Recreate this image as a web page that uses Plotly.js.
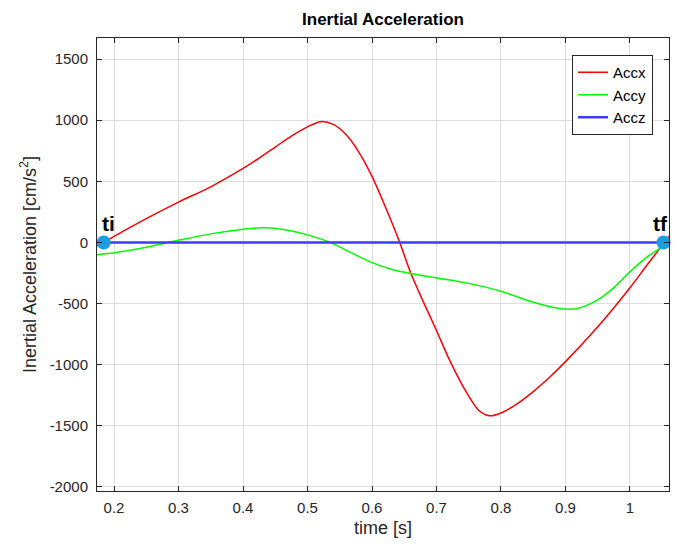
<!DOCTYPE html>
<html>
<head>
<meta charset="utf-8">
<script src="https://cdn.plot.ly/plotly-3.0.1.min.js"></script>
<style>html,body{margin:0;padding:0;background:#fff;}#chart{width:678px;height:548px;}</style>
</head>
<body>
<div id="chart"></div>
<script>
// Axis extent and event times
const xRange = [0.1736, 1.0605];
const yRange = [-2033, 1672];
const ti = 0.184;
const tf = 1.052;

// Accx (red)
const tAccx = [0.1736, 0.184, 0.2, 0.25, 0.3, 0.35, 0.4, 0.425, 0.45, 0.475, 0.5, 0.52, 0.54, 0.56, 0.58, 0.6, 0.62, 0.643, 0.66, 0.68, 0.7, 0.72, 0.747, 0.765, 0.782, 0.8, 0.825, 0.85, 0.875, 0.9, 0.95, 1.0, 1.025, 1.052, 1.0605];
const accx  = [-30, 0, 50, 195, 330, 455, 605, 690, 780, 870, 945, 988, 965, 880, 735, 540, 300, 0, -250, -490, -720, -960, -1231, -1370, -1418, -1395, -1320, -1220, -1105, -975, -690, -370, -195, -10, 50];

// Accy (green)
const tAccy = [0.1736, 0.2, 0.25, 0.283, 0.3, 0.35, 0.4, 0.43, 0.46, 0.5, 0.535, 0.57, 0.6, 0.63, 0.66, 0.7, 0.75, 0.8, 0.85, 0.88, 0.9, 0.92, 0.95, 0.975, 1.0, 1.025, 1.052, 1.0605];
const accy  = [-100, -85, -40, 0, 18, 70, 108, 120, 108, 62, 0, -90, -165, -220, -255, -290, -335, -400, -490, -530, -545, -538, -470, -370, -240, -125, -30, -5];

// Accz (blue)
const tAccz = [0.1736, 1.0605];
const accz  = [0, 0];

// Ticks
const xTickVals = [0.2, 0.3, 0.4, 0.5, 0.6, 0.7, 0.8, 0.9, 1.0];
const xTickText = ["0.2", "0.3", "0.4", "0.5", "0.6", "0.7", "0.8", "0.9", "1"];
const yTickVals = [-2000, -1500, -1000, -500, 0, 500, 1000, 1500];
const yTickText = ["-2000", "-1500", "-1000", "-500", "0", "500", "1000", "1500"];

const FONT = "Liberation Sans, Arial, Helvetica, sans-serif";
const AX = "#262626";

const traces = [
  {x: tAccx, y: accx, name: "Accx", mode: "lines", line: {color: "#ff0000", width: 1.5, shape: "spline", smoothing: 0.8}},
  {x: tAccy, y: accy, name: "Accy", mode: "lines", line: {color: "#00ff00", width: 1.5, shape: "spline", smoothing: 0.8}},
  {x: tAccz, y: accz, name: "Accz", mode: "lines", line: {color: "#3b3bff", width: 2.5}},
  {x: [ti, tf], y: [0, 0], mode: "markers", showlegend: false, marker: {color: "#1e9be6", size: 14}, cliponaxis: false}
];

const axisCommon = {
  showline: true, linecolor: AX, linewidth: 1, mirror: "ticks",
  ticks: "inside", ticklen: 5, tickcolor: AX, tickwidth: 1,
  showgrid: true, gridcolor: "#dedede", gridwidth: 1,
  zeroline: false, tickfont: {family: FONT, size: 15, color: AX},
  fixedrange: true
};

const layout = {
  width: 678, height: 548,
  margin: {l: 97, r: 9, t: 38, b: 57},
  paper_bgcolor: "#fff", plot_bgcolor: "#fff",
  font: {family: FONT, color: AX},
  title: {text: "<b>Inertial Acceleration</b>", font: {family: FONT, size: 17, color: "#000"}, x: 0.5649, xanchor: "center", y: 0.965, yanchor: "middle"},
  xaxis: Object.assign({}, axisCommon, {range: xRange, tickvals: xTickVals, ticktext: xTickText, ticklabelstandoff: 3,
    title: {text: "time [s]", font: {family: FONT, size: 18, color: AX}, standoff: 6}}),
  yaxis: Object.assign({}, axisCommon, {range: yRange, tickvals: yTickVals, ticktext: yTickText, ticklabelstandoff: 5,
    title: {text: "Inertial Acceleration [cm/s<sup>2</sup>]", font: {family: FONT, size: 18, color: AX}, standoff: 8}}),
  showlegend: true,
  legend: {x: 0.972, xanchor: "right", y: 0.9625, yanchor: "top", bgcolor: "#fff",
    bordercolor: AX, borderwidth: 1, font: {family: FONT, size: 15, color: "#000"}, tracegroupgap: 0},
  annotations: [
    {x: ti, y: 0, xref: "x", yref: "y", text: "<b>ti</b>", showarrow: false, xanchor: "left", yanchor: "bottom", xshift: -4, yshift: 5, font: {family: FONT, size: 21, color: "#000"}},
    {x: tf, y: 0, xref: "x", yref: "y", text: "<b>tf</b>", showarrow: false, xanchor: "right", yanchor: "bottom", xshift: 6, yshift: 5, font: {family: FONT, size: 21, color: "#000"}}
  ]
};

Plotly.newPlot("chart", traces, layout, {displayModeBar: false, staticPlot: true});
</script>
</body>
</html>
